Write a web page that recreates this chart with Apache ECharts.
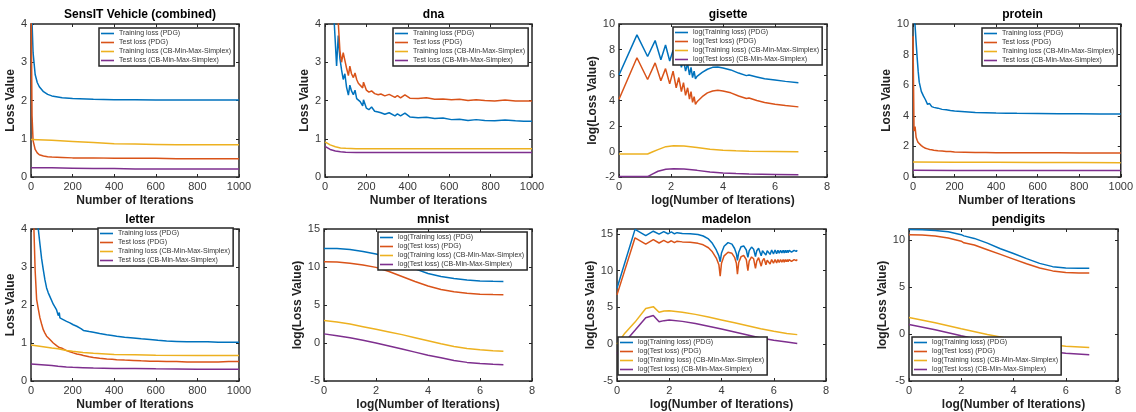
<!DOCTYPE html>
<html>
<head>
<meta charset="utf-8">
<script src="https://cdn.jsdelivr.net/npm/echarts@6/dist/echarts.min.js"></script>
<style>
  html, body { margin: 0; padding: 0; background: #fff; }
  #chart { width: 1136px; height: 412px; }
</style>
</head>
<body>
<div id="chart"></div>
<script>
// series names
const plainNames = ['Training loss (PDG)', 'Test loss (PDG)', 'Training loss (CB-Min-Max-Simplex)', 'Test loss (CB-Min-Max-Simplex)'];
const logNames = ['log(Training loss) (PDG)', 'log(Test loss) (PDG)', 'log(Training loss) (CB-Min-Max-Simplex)', 'log(Test loss) (CB-Min-Max-Simplex)'];

// SensIT Vehicle (combined)
const sensitX = [0, 5, 10, 20, 30, 40, 60, 80, 100, 150, 200, 300, 400, 500, 600, 700, 800, 900, 1000];
const sensitTrainPdg = [5, 4.05, 3.25, 2.68, 2.47, 2.36, 2.23, 2.16, 2.12, 2.07, 2.05, 2.03, 2.02, 2.02, 2.01, 2.01, 2.01, 2.01, 2.01];
const sensitTestPdg = [5, 1.6, 0.95, 0.72, 0.63, 0.58, 0.55, 0.53, 0.52, 0.51, 0.5, 0.5, 0.49, 0.49, 0.49, 0.48, 0.48, 0.48, 0.48];
const sensitCbX = [0, 100, 200, 300, 400, 500, 600, 700, 800, 900, 1000];
const sensitTrainCb = [0.98, 0.96, 0.93, 0.9, 0.87, 0.86, 0.85, 0.84, 0.84, 0.84, 0.84];
const sensitTestCb = [0.24, 0.24, 0.23, 0.22, 0.22, 0.21, 0.21, 0.21, 0.21, 0.21, 0.21];

// dna
const dnaX = [0, 30, 45, 56, 64, 72, 80, 88, 96, 104,
  113, 120, 128, 137, 145, 153, 161, 170, 182, 186,
  200, 212, 225, 240, 257, 270, 289, 310, 338, 350,
  365, 386, 410, 450, 490, 530, 570, 611, 650, 691,
  730, 772, 820, 870, 920, 960, 1000];
const dnaTrainPdg = [6, 4.8, 4.0, 2.9, 3.7, 3.1, 2.8, 2.55, 2.7, 2.35,
  2.14, 2.4, 2.25, 2.15, 2.27, 2.05, 2.0, 1.97, 1.86, 2.02,
  1.8, 1.76, 1.83, 1.72, 1.7, 1.68, 1.64, 1.68, 1.6, 1.65,
  1.6, 1.67, 1.57, 1.55, 1.56, 1.53, 1.54, 1.5, 1.51, 1.48,
  1.5, 1.48, 1.47, 1.49, 1.47, 1.46, 1.46];
const dnaTestPdg = [7, 5.8, 4.9, 4.2, 4.05, 3.3, 3.0, 3.25, 3.05, 2.85,
  2.65, 2.9, 2.7, 2.6, 2.72, 2.55, 2.45, 2.4, 2.33, 2.48,
  2.27, 2.22, 2.25, 2.18, 2.15, 2.17, 2.12, 2.16, 2.08, 2.13,
  2.07, 2.15, 2.06, 2.05, 2.07, 2.03, 2.04, 2.02, 2.03, 2.0,
  2.02, 2.0, 1.99, 2.01, 1.99, 1.99, 1.99];
const dnaCbX = [0, 25, 50, 75, 100, 150, 200, 300, 500, 700, 1000];
const dnaTrainCb = [0.92, 0.84, 0.79, 0.76, 0.75, 0.74, 0.74, 0.74, 0.74, 0.74, 0.74];
const dnaTestCb = [0.8, 0.72, 0.68, 0.66, 0.65, 0.64, 0.64, 0.64, 0.64, 0.64, 0.64];

// gisette (log-log)
const gisetteX = [0, 0.69, 1.10, 1.39, 1.61, 1.79, 1.95, 2.08, 2.20, 2.30,
  2.40, 2.48, 2.56, 2.64, 2.71, 2.77, 2.83, 2.89, 2.94, 3.0,
  3.2, 3.4, 3.6, 3.8, 4.0, 4.3, 4.6, 4.9, 5.0, 5.3,
  5.6, 6.0, 6.4, 6.9];
const gisetteTrainPdg = [6.0, 9.15, 7.45, 8.7, 7.2, 8.35, 7.1, 7.95, 7.0, 7.6,
  6.6, 7.2, 6.3, 6.9, 6.0, 6.6, 5.8, 6.3, 5.7, 5.9,
  6.2, 6.45, 6.6, 6.62, 6.55, 6.4, 6.15, 5.95, 6.0, 5.85,
  5.7, 5.6, 5.5, 5.4];
const gisetteTestPdg = [4.1, 7.35, 5.65, 6.95, 5.55, 6.5, 5.3, 6.3, 5.0, 5.8,
  4.7, 5.4, 4.4, 5.0, 4.1, 4.7, 3.85, 4.3, 3.7, 3.9,
  4.3, 4.6, 4.75, 4.8, 4.75, 4.6, 4.35, 4.15, 4.2, 4.0,
  3.85, 3.7, 3.6, 3.5];
const gisetteCbX = [0, 1.1, 1.3, 1.5, 1.8, 2.1, 2.5, 3.0, 3.5, 4.0, 4.5, 5.0, 6.0, 6.9];
const gisetteTrainCb = [-0.2, -0.2, -0.02, 0.15, 0.38, 0.45, 0.43, 0.32, 0.18, 0.1, 0.05, 0.02, 0.0, -0.02];
const gisetteTestCb = [-1.97, -1.97, -1.75, -1.55, -1.4, -1.35, -1.37, -1.48, -1.6, -1.68, -1.73, -1.77, -1.8, -1.82];

// protein
const proteinX = [0, 5, 10, 15, 20, 25, 30, 40, 50, 60,
  70, 80, 90, 100, 120, 140, 160, 180, 200, 250,
  300, 350, 400, 450, 500, 600, 700, 800, 900, 1000];
const proteinTrainPdg = [11, 10.2, 9.9, 8.8, 7.8, 6.9, 6.2, 5.6, 5.3, 5.05,
  4.75, 4.8, 4.6, 4.55, 4.5, 4.42, 4.4, 4.35, 4.32, 4.27,
  4.22, 4.2, 4.18, 4.17, 4.16, 4.15, 4.14, 4.13, 4.12, 4.12];
const proteinTestPdg = [9.2, 3.0, 3.3, 2.6, 2.4, 2.25, 2.15, 2.05, 1.95, 1.88,
  1.84, 1.8, 1.78, 1.75, 1.72, 1.7, 1.67, 1.66, 1.64, 1.62,
  1.6, 1.6, 1.59, 1.59, 1.58, 1.58, 1.58, 1.57, 1.57, 1.57];
const proteinCbX = [0, 200, 400, 600, 800, 1000];
const proteinTrainCb = [0.98, 0.97, 0.96, 0.95, 0.94, 0.93];
const proteinTestCb = [0.44, 0.43, 0.43, 0.42, 0.42, 0.42];

// letter
const letterX = [0, 14, 20, 27, 35, 43, 51, 59, 67, 75,
  83, 91, 107, 123, 131, 136, 139, 150, 171, 187,
  203, 220, 240, 252, 256, 260, 280, 300, 330, 364,
  390, 412, 450, 492, 530, 572, 610, 652, 700, 750,
  812, 820, 850, 900, 950, 1000];
const letterTrainPdg = [7, 5.2, 4.8, 4.4, 4.0, 3.6, 3.22, 2.93, 2.66, 2.45,
  2.32, 2.22, 2.02, 1.87, 1.72, 1.8, 1.66, 1.63, 1.57, 1.53,
  1.48, 1.44, 1.38, 1.33, 1.37, 1.33, 1.3, 1.28, 1.25, 1.22,
  1.2, 1.18, 1.15, 1.13, 1.11, 1.09, 1.07, 1.05, 1.04, 1.03,
  1.03, 1.05, 1.03, 1.02, 1.02, 1.02];
const letterTestPdg = [6, 4.0, 2.9, 2.15, 1.9, 1.66, 1.5, 1.35, 1.26, 1.18,
  1.13, 1.09, 1.0, 0.93, 0.9, 0.88, 0.9, 0.86, 0.8, 0.77,
  0.74, 0.71, 0.69, 0.67, 0.67, 0.66, 0.64, 0.62, 0.6, 0.58,
  0.57, 0.56, 0.55, 0.54, 0.53, 0.52, 0.52, 0.51, 0.51, 0.5,
  0.5, 0.5, 0.5, 0.5, 0.51, 0.51];
const letterCbX = [0, 50, 100, 130, 170, 200, 250, 300, 400, 500, 600, 800, 1000];
const letterTrainCb = [0.95, 0.91, 0.87, 0.85, 0.8, 0.78, 0.75, 0.73, 0.7, 0.69, 0.68, 0.67, 0.67];
const letterTestCb = [0.45, 0.43, 0.41, 0.39, 0.37, 0.36, 0.35, 0.34, 0.33, 0.33, 0.32, 0.31, 0.31];

// mnist (log-log)
const mnistX = [0, 0.5, 1, 1.5, 2, 2.5, 3, 3.5, 4, 4.5, 5, 5.5, 6, 6.5, 6.9];
const mnistTrainPdg = [12.45, 12.42, 12.3, 12.05, 11.7, 11.2, 10.5, 9.75, 9.15, 8.75, 8.5, 8.3, 8.17, 8.12, 8.1];
const mnistTestPdg = [10.7, 10.65, 10.5, 10.25, 9.95, 9.4, 8.75, 8.1, 7.5, 7.05, 6.75, 6.55, 6.42, 6.37, 6.35];
const mnistTrainCb = [2.95, 2.75, 2.5, 2.15, 1.8, 1.45, 1.1, 0.7, 0.3, -0.1, -0.45, -0.72, -0.9, -1.02, -1.08];
const mnistTestCb = [1.2, 0.95, 0.7, 0.35, 0.0, -0.4, -0.8, -1.2, -1.6, -1.95, -2.3, -2.55, -2.7, -2.8, -2.85];

// madelon (log-log)
const madelonX = [0, 0.69, 1.10, 1.39, 1.61, 1.79, 1.95, 2.08, 2.20, 2.30,
  2.5, 2.8, 3.1, 3.3, 3.5, 3.65, 3.8, 3.9, 3.95, 4.0,
  4.1, 4.25, 4.4, 4.5, 4.57, 4.61, 4.66, 4.75, 4.85, 4.95,
  5.01, 5.06, 5.15, 5.23, 5.3, 5.35, 5.42, 5.48, 5.52, 5.57,
  5.63, 5.7, 5.75, 5.8, 5.86, 5.92, 5.99, 6.05, 6.11, 6.16,
  6.21, 6.26, 6.31, 6.36, 6.40, 6.44, 6.48, 6.52, 6.55, 6.59,
  6.62, 6.65, 6.68, 6.72, 6.75, 6.78, 6.80, 6.83, 6.86, 6.9];
const madelonTrainPdg = [7.6, 15.6, 14.75, 15.35, 14.95, 15.3, 15.0, 15.25, 15.0, 15.15,
  15.05, 15.0, 14.9, 14.7, 14.3, 13.7, 12.8, 12.0, 11.2, 12.4,
  13.3, 13.8, 13.6, 13.0, 12.3, 11.4, 12.5, 13.25, 13.35, 12.8,
  11.8, 12.7, 13.2, 12.9, 11.9, 12.7, 13.05, 12.8, 12.0, 12.7,
  12.95, 12.1, 12.7, 12.9, 12.2, 12.8, 12.25, 12.8, 12.3, 12.75,
  12.35, 12.75, 12.4, 12.75, 12.4, 12.75, 12.45, 12.75, 12.45, 12.75,
  12.5, 12.75, 12.5, 12.75, 12.55, 12.75, 12.55, 12.75, 12.6, 12.75];
const madelonTestPdg = [6.7, 14.45, 13.6, 14.2, 13.75, 14.1, 13.8, 14.05, 13.8, 14.0,
  13.9, 13.85, 13.7, 13.5, 13.1, 12.55, 11.7, 10.8, 9.25, 11.0,
  12.0, 12.5, 12.35, 11.8, 11.0, 9.5, 11.1, 11.9, 12.05, 11.5,
  10.0, 11.3, 11.85, 11.6, 10.3, 11.3, 11.75, 11.5, 10.6, 11.35,
  11.65, 10.8, 11.4, 11.6, 10.9, 11.5, 11.0, 11.5, 11.05, 11.5,
  11.1, 11.5, 11.15, 11.5, 11.15, 11.5, 11.2, 11.5, 11.2, 11.5,
  11.25, 11.5, 11.25, 11.5, 11.3, 11.5, 11.3, 11.5, 11.35, 11.5];
const madelonCbX = [0, 0.3, 0.69, 1.1, 1.39, 1.61, 1.8, 2.0, 2.5, 3.0, 3.5, 4.0, 4.5, 5.0, 5.5, 6.0, 6.5, 6.9];
const madelonTrainCb = [0.0, 1.5, 3.0, 4.85, 5.1, 4.35, 4.5, 4.55, 4.35, 4.05, 3.7, 3.3, 2.9, 2.5, 2.1, 1.75, 1.45, 1.3];
const madelonTestCb = [-1.3, 0.3, 1.9, 3.6, 3.9, 3.05, 3.2, 3.3, 3.1, 2.8, 2.45, 2.05, 1.65, 1.25, 0.85, 0.55, 0.3, 0.1];

// pendigits (log-log)
const pendigitsX = [0, 0.5, 1, 1.5, 2, 2.05, 2.1, 2.5, 3, 3.5, 4, 4.5, 5, 5.5, 6, 6.5, 6.9];
const pendigitsTrainPdg = [11.1, 11.08, 11.0, 10.85, 10.55, 10.45, 10.42, 10.15, 9.65, 9.05, 8.55, 8.0, 7.5, 7.15, 7.0, 6.97, 6.97];
const pendigitsTestPdg = [10.55, 10.5, 10.4, 10.2, 9.85, 9.7, 9.68, 9.45, 8.95, 8.45, 7.95, 7.45, 7.0, 6.7, 6.52, 6.48, 6.48];
const pendigitsCbX = [0, 1, 2, 3, 4, 5, 6, 6.9];
const pendigitsTrainCb = [1.75, 1.2, 0.55, -0.05, -0.6, -1.0, -1.3, -1.45];
const pendigitsTestCb = [1.0, 0.45, -0.2, -0.8, -1.35, -1.75, -2.05, -2.2];

const colors = ['#0072BD', '#D95319', '#EDB120', '#7E2F8E'];
const font = "'Liberation Sans', Arial, Helvetica, sans-serif";
const axisColor = '#262626';

const panels = [
  { title: 'SensIT Vehicle (combined)', left: 31, top: 24, width: 208, xMax: 1000, xStep: 200, yMin: 0, yMax: 4, yStep: 1, log: false, yGap: 12, legend: [99, 28],
    lines: [[sensitX, sensitTrainPdg], [sensitX, sensitTestPdg], [sensitCbX, sensitTrainCb], [sensitCbX, sensitTestCb]] },
  { title: 'dna', left: 325, top: 24, width: 207, xMax: 1000, xStep: 200, yMin: 0, yMax: 4, yStep: 1, log: false, yGap: 11, legend: [393, 28],
    lines: [[dnaX, dnaTrainPdg], [dnaX, dnaTestPdg], [dnaCbX, dnaTrainCb], [dnaCbX, dnaTestCb]] },
  { title: 'gisette', left: 619, top: 24, width: 208, xMax: 8, xStep: 2, yMin: -2, yMax: 10, yStep: 2, log: true, yGap: 15, legend: [673, 27],
    lines: [[gisetteX, gisetteTrainPdg], [gisetteX, gisetteTestPdg], [gisetteCbX, gisetteTrainCb], [gisetteCbX, gisetteTestCb]] },
  { title: 'protein', left: 913, top: 24, width: 209, xMax: 1000, xStep: 200, yMin: 0, yMax: 10, yStep: 2, log: false, yGap: 15, legend: [982, 28],
    lines: [[proteinX, proteinTrainPdg], [proteinX, proteinTestPdg], [proteinCbX, proteinTrainCb], [proteinCbX, proteinTestCb]] },
  { title: 'letter', left: 31, top: 229, width: 208, xMax: 1000, xStep: 200, yMin: 0, yMax: 4, yStep: 1, log: false, yGap: 12, legend: [98, 228],
    lines: [[letterX, letterTrainPdg], [letterX, letterTestPdg], [letterCbX, letterTrainCb], [letterCbX, letterTestCb]] },
  { title: 'mnist', left: 324, top: 229, width: 208, xMax: 8, xStep: 2, yMin: -5, yMax: 15, yStep: 5, log: true, yGap: 16, legend: [378, 232],
    lines: [[mnistX, mnistTrainPdg], [mnistX, mnistTestPdg], [mnistX, mnistTrainCb], [mnistX, mnistTestCb]] },
  { title: 'madelon', left: 617, top: 229, width: 209, xMax: 8, xStep: 2, yMin: -5, yMax: 15.65, yStep: 5, log: true, yGap: 16, legend: [618, 337], hideMax: true,
    lines: [[madelonX, madelonTrainPdg], [madelonX, madelonTestPdg], [madelonCbX, madelonTrainCb], [madelonCbX, madelonTestCb]] },
  { title: 'pendigits', left: 909, top: 229, width: 209, xMax: 8, xStep: 2, yMin: -5, yMax: 11.15, yStep: 5, log: true, yGap: 15, legend: [912, 337], hideMax: true,
    lines: [[pendigitsX, pendigitsTrainPdg], [pendigitsX, pendigitsTestPdg], [pendigitsCbX, pendigitsTrainCb], [pendigitsCbX, pendigitsTestCb]] }
];

const zip = (xs, ys) => xs.map((x, i) => [x, ys[i]]);

const option = {
  animation: false,
  backgroundColor: '#fff',
  color: colors,
  title: [], grid: [], xAxis: [], yAxis: [], legend: [], series: []
};

panels.forEach((p, i) => {
  const names = p.log ? logNames : plainNames;
  const line = { show: false, onZero: false };
  const tick = { show: true, inside: true, length: 3, lineStyle: { color: axisColor, width: 1 } };
  const label = { color: '#383838', fontSize: 11, fontFamily: font, formatter: (v) => String(v) };
  const nameStyle = { color: '#222', fontSize: 12, fontWeight: 'bold', fontFamily: font };

  // MATLAB-style box round each plot
  option.grid.push({
    left: p.left, top: p.top, width: p.width, height: 153,
    show: true, borderColor: axisColor, borderWidth: 1.5, backgroundColor: 'transparent'
  });
  option.title.push({
    text: p.title, left: p.left + p.width / 2, top: p.top - 20, textAlign: 'center',
    textStyle: { color: '#000', fontSize: 12, fontWeight: 'bold', fontFamily: font }
  });

  option.xAxis.push({
    type: 'value', gridIndex: i, min: 0, max: p.xMax, interval: p.xStep,
    name: p.log ? 'log(Number of Iterations)' : 'Number of Iterations',
    nameLocation: 'middle', nameGap: 18, nameTextStyle: nameStyle,
    axisLine: line, axisTick: tick, axisLabel: Object.assign({ margin: 4 }, label),
    splitLine: { show: false }
  });
  option.xAxis.push({
    type: 'value', gridIndex: i, position: 'top', min: 0, max: p.xMax, interval: p.xStep,
    axisLine: line, axisTick: tick, axisLabel: { show: false }, splitLine: { show: false }
  });
  option.yAxis.push({
    type: 'value', gridIndex: i, min: p.yMin, max: p.yMax, interval: p.yStep,
    name: p.log ? 'log(Loss Value)' : 'Loss Value',
    nameLocation: 'middle', nameGap: p.yGap, nameTextStyle: nameStyle,
    axisLine: line, axisTick: tick,
    axisLabel: Object.assign({ margin: 4, showMaxLabel: !p.hideMax }, label),
    splitLine: { show: false }
  });
  option.yAxis.push({
    type: 'value', gridIndex: i, position: 'right', min: p.yMin, max: p.yMax, interval: p.yStep,
    axisLine: line, axisTick: tick, axisLabel: { show: false }, splitLine: { show: false }
  });

  p.lines.forEach((pair, k) => {
    option.series.push({
      type: 'line', name: names[k], xAxisIndex: 2 * i, yAxisIndex: 2 * i,
      data: zip(pair[0], pair[1]), showSymbol: false, symbol: 'none',
      lineStyle: { width: 1.5, color: colors[k] }, itemStyle: { color: colors[k] },
      clip: true, z: 3
    });
  });

  option.legend.push({
    data: names, left: p.legend[0], top: p.legend[1], orient: 'vertical',
    icon: 'rect', itemWidth: 13, itemHeight: 1.6, itemGap: 2,
    padding: [2, 3, 2, 2], backgroundColor: '#fff', borderColor: axisColor, borderWidth: 1.5,
    textStyle: { fontSize: 7, color: '#333', fontFamily: font }, selectedMode: false
  });
});

const myChart = echarts.init(document.getElementById('chart'));
myChart.setOption(option);
</script>
</body>
</html>
